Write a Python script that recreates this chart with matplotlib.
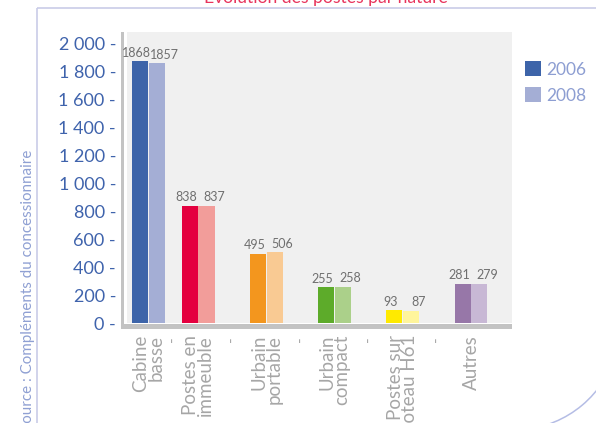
import matplotlib
matplotlib.use("Agg")
import matplotlib.pyplot as plt
from matplotlib.patches import Rectangle, Arc, Patch

# ---- data ----
categories = ["Cabine\nbasse", "Postes en\nimmeuble", "Urbain\nportable",
              "Urbain\ncompact", "Postes sur\npoteau H61", "Autres"]
values_2006 = [1868, 838, 495, 255, 93, 281]
values_2008 = [1857, 837, 506, 258, 87, 279]
series_labels = ["2006", "2008"]
y_ticks = [0, 200, 400, 600, 800, 1000, 1200, 1400, 1600, 1800, 2000]

# ---- layout / style ----
W, H = 596, 423
group_centers = [148.5, 198.0, 266.5, 334.5, 402.5, 471.0]   # x positions (px units)
colors_2006 = ["#3d64a9", "#e4003f", "#f3961e", "#5dab2a", "#ffea00", "#9777a8"]
colors_2008 = ["#a4aed5", "#f29d9a", "#f9ca93", "#abd08a", "#fff59b", "#c8b8d5"]
FONT = "Lato"
WT = "normal"

fig = plt.figure(figsize=(W / 100, H / 100), dpi=100)
fig.patch.set_facecolor("white")

# decoration layer in pixel coordinates
deco = fig.add_axes([0, 0, 1, 1], zorder=0)
deco.set_xlim(0, W)
deco.set_ylim(H, 0)
deco.axis("off")
deco.patch.set_alpha(0)

frame_col = "#c9cce8"
deco.plot([36.7, W], [8.5, 8.5], color=frame_col, lw=1.2, solid_capstyle="butt")
deco.plot([36.7, 36.7], [8.5, H], color=frame_col, lw=1.2, solid_capstyle="butt")
deco.add_patch(Arc((514, 324), 212, 212, theta1=15, theta2=85,
                   color="#b5bde5", lw=1.1))

deco.text(326, 3, "Evolution des postes par nature", ha="center", va="baseline",
          color="#e8345c", fontsize=12.6, family=FONT, fontweight=WT)
deco.text(28, 150, "Source : Compléments du concessionnaire", rotation=90,
          ha="center", va="top", color="#8fa0d3", fontsize=10.9,
          family=FONT, fontweight=WT)

# axis lines (gray L)
deco.add_patch(Rectangle((120.7, 32), 3.4, 297, color="#c3c3c3", lw=0))
deco.add_patch(Rectangle((120.7, 324), 391.3, 5, color="#c3c3c3", lw=0))

# ---- main chart ----
ax = fig.add_axes([127 / W, (H - 323) / H, (512 - 127) / W, (323 - 32) / H], zorder=1)
ax.set_facecolor("#f0f0f0")
ax.set_xlim(127, 512)
ax.set_ylim(0, 2078.6)
for s in ax.spines.values():
    s.set_visible(False)

bw = 16.2
off = 8.4
x06 = [c - off for c in group_centers]
x08 = [c + off for c in group_centers]
ax.bar(x06, values_2006, width=bw, color=colors_2006, lw=0)
ax.bar(x08, values_2008, width=bw, color=colors_2008, lw=0)

lab_kw = dict(textcoords="offset points", color="#6f6f6f", fontsize=9,
              family=FONT, fontweight=WT, va="baseline", ha="center")
for x, v in zip(x06, values_2006):
    ax.annotate(str(v), (x, v), xytext=(-2.6, 3.2), **lab_kw)
for x, v in zip(x08, values_2008):
    ax.annotate(str(v), (x, v), xytext=(5.5, 3.2), **lab_kw)

ax.set_yticks(y_ticks)
ax.set_yticklabels([f"{v:,}".replace(",", " ") + " -" for v in y_ticks],
                   color="#3f63ac", fontsize=13, family=FONT, fontweight=WT)
ax.tick_params(axis="y", length=0, pad=7.9)

ax.set_xticks(group_centers)
ax.set_xticklabels(categories, rotation=90, ha="center", va="top",
                   multialignment="right", linespacing=0.85,
                   color="#a6a6a6", fontsize=13.5, family=FONT, fontweight=WT)
mids = [(a + b) / 2 for a, b in zip(group_centers[:-1], group_centers[1:])]
ax.set_xticks(mids, minor=True)
ax.set_xticklabels(["-"] * len(mids), minor=True, rotation=90, ha="center", va="top",
                   color="#a6a6a6", fontsize=11, family=FONT)
ax.tick_params(axis="x", which="major", length=0, pad=8.6)
ax.tick_params(axis="x", which="minor", length=0, pad=9.5)

# legend
handles = [Patch(facecolor=colors_2006[0], lw=0), Patch(facecolor=colors_2008[0], lw=0)]
fig.legend(handles, series_labels, loc="upper left",
           bbox_to_anchor=(522 / W, 1 - 58 / H), frameon=False,
           prop={"family": FONT, "weight": WT, "size": 12.5},
           labelcolor="#8d9ed2", handlelength=0.92, handleheight=0.92,
           handletextpad=0.25, labelspacing=0.55, borderaxespad=0, borderpad=0.2)

fig.savefig("out.png", dpi=100, facecolor="white")
